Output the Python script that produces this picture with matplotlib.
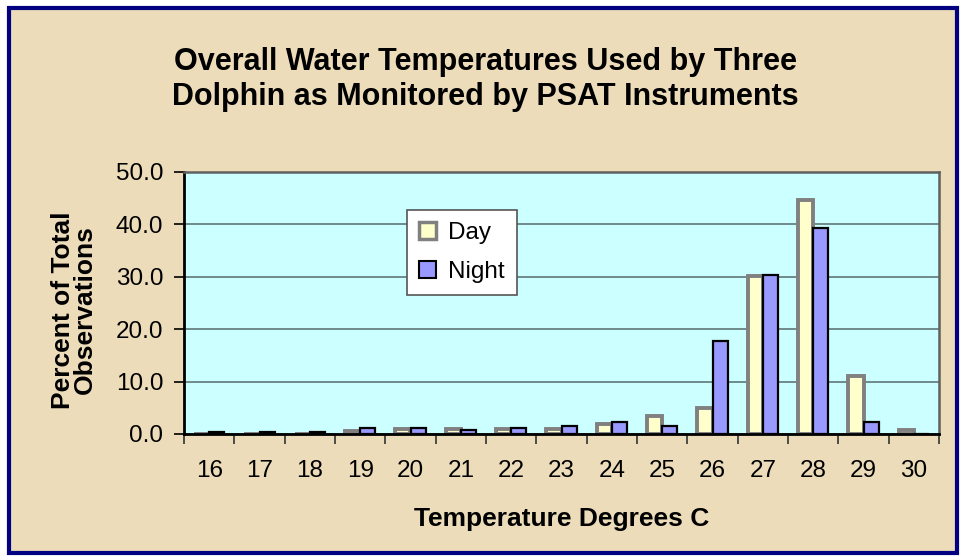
import matplotlib
matplotlib.use("Agg")
import matplotlib.pyplot as plt
from matplotlib.patches import Patch, Rectangle
from matplotlib import font_manager
import numpy as np

# data
temps = ["16", "17", "18", "19", "20", "21", "22", "23", "24", "25", "26", "27", "28", "29", "30"]
day = [0.0, 0.0, 0.0, 0.6, 1.0, 1.0, 1.0, 1.0, 2.0, 3.5, 5.0, 30.1, 44.6, 11.0, 0.7]
night = [0.3, 0.3, 0.3, 1.1, 1.1, 0.7, 1.1, 1.5, 2.3, 1.5, 17.8, 30.4, 39.3, 2.2, 0.0]
yticks = [0, 10, 20, 30, 40, 50]

plt.rcParams['font.family'] = ['Liberation Sans', 'DejaVu Sans']

names = set(f.name for f in font_manager.fontManager.ttflist)
if 'Liberation Sans Narrow' in names:
    title_font = 'Liberation Sans Narrow'
    title_size = 24
else:
    title_font = 'Liberation Sans'
    title_size = 22

fig = plt.figure(figsize=(9.61, 5.58), dpi=100)
fig.patch.set_facecolor('white')
# parchment panel with navy frame
fig.patches.append(Rectangle((9/961, 5/558), 948/961, 545/558, transform=fig.transFigure,
                             facecolor='#ecdcb9', edgecolor='#000080', linewidth=3, zorder=-5))

ax = fig.add_axes([184/961, 1 - 434/558, 755/961, 262/558])
ax.set_zorder(2)
ax.set_facecolor('#ccffff')

x = np.arange(len(temps))
w = 0.3
ax.bar(x - w/2, day, w, color='#ffffcc', edgecolor='#808080', linewidth=2.8, zorder=3, label='Day')
ax.bar(x + w/2, night, w, color='#9999ff', edgecolor='black', linewidth=1.6, zorder=3, label='Night')

ax.set_xlim(-0.5, len(temps) - 0.5)
ax.set_ylim(0, 50)
ax.set_yticks(yticks)
ax.set_yticklabels(["%.1f" % v for v in yticks], fontsize=17.5)
ax.yaxis.grid(True, color='#5f7777', linewidth=1.2, zorder=1)
ax.set_axisbelow(True)
ax.tick_params(axis='y', direction='out', length=7, width=1.2, colors='black', pad=8)

ax.set_xticks(x)
ax.set_xticklabels(temps, fontsize=17.5)
ax.tick_params(axis='x', length=0, pad=19)
ax.set_xticks(np.arange(len(temps) + 1) - 0.5, minor=True)
ax.tick_params(axis='x', which='minor', direction='out', length=7, width=1.2, colors='#333333')

for s in ['left', 'bottom']:
    ax.spines[s].set_color('black')
    ax.spines[s].set_linewidth(2)
for s in ['top', 'right']:
    ax.spines[s].set_color('#606060')
    ax.spines[s].set_linewidth(1.8)
ax.spines['bottom'].set_zorder(4)

fig.text(0.505, 1 - 62/558, "Overall Water Temperatures Used by Three", ha='center', va='center',
         fontsize=title_size, fontweight='bold', family=[title_font, 'DejaVu Sans'])
fig.text(0.505, 1 - 97/558, "Dolphin as Monitored by PSAT Instruments", ha='center', va='center',
         fontsize=title_size, fontweight='bold', family=[title_font, 'DejaVu Sans'])

fig.text(562/961, 1 - 519/558, "Temperature Degrees C", ha='center', va='center',
         fontsize=19, fontweight='bold')
fig.text(74/961, 1 - 310/558, "Percent of Total\nObservations", ha='center', va='center',
         rotation=90, fontsize=19, fontweight='bold', linespacing=0.9, multialignment='center')

handles = [Patch(facecolor='#ffffcc', edgecolor='#808080', linewidth=2.5),
           Patch(facecolor='#9999ff', edgecolor='black', linewidth=1.5)]
leg = ax.legend(handles, ['Day', 'Night'], loc='upper left',
                bbox_to_anchor=(407/961, 1 - 210/558), bbox_transform=fig.transFigure,
                fontsize=17.5, frameon=True, fancybox=False, handlelength=0.7, handleheight=0.7,
                handletextpad=0.5, borderpad=0.5, labelspacing=0.7, borderaxespad=0)
leg.get_frame().set_edgecolor('#555555')
leg.get_frame().set_linewidth(1.2)
leg.get_frame().set_facecolor('white')
leg.get_frame().set_alpha(1)
leg.set_zorder(5)

fig.savefig('out.png', dpi=100, facecolor=fig.get_facecolor())
